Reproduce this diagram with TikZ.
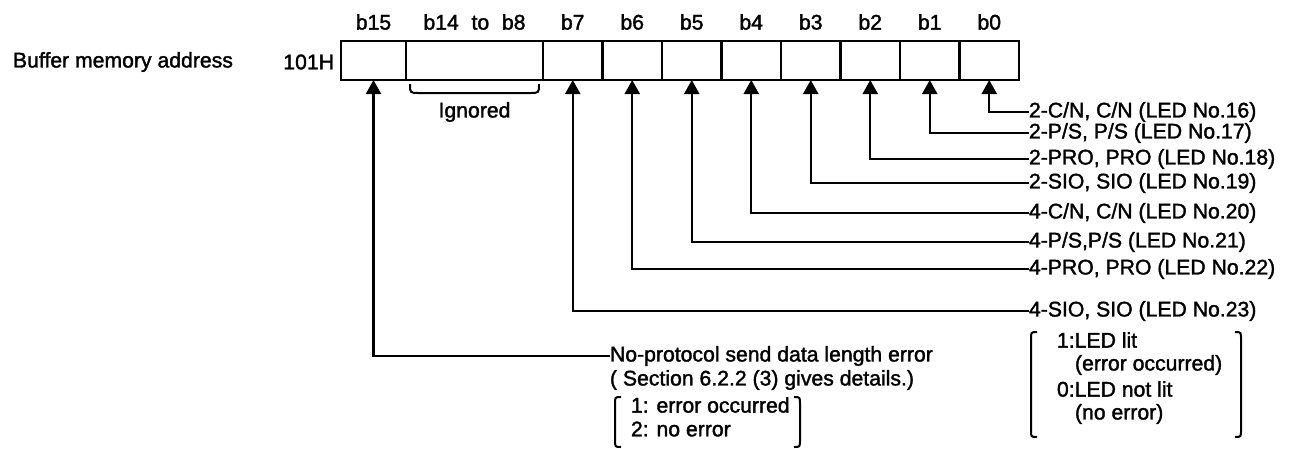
\documentclass[tikz,border=0pt]{standalone}
\usepackage{fontspec}
\setmainfont{Liberation Sans}[FakeBold=1.6]
\usetikzlibrary{arrows.meta}
\begin{document}
\begin{tikzpicture}[x=1pt,y=-1pt,
  every node/.style={font=\fontsize{21.2}{25}\selectfont, inner sep=0pt, outer sep=0pt},
  cell/.style={draw, line width=2.2pt, minimum height=39pt},
  lbl/.style={anchor=west},
  conn/.style={line width=2.2pt, -{Triangle[width=15pt,length=14pt]}},
  brk/.style={line width=2pt}]
\path[use as bounding box] (0,0) rectangle (1294,448);

% register cells
\node[cell, minimum width=65pt]  (c15) at (373.5,60.5) {};
\node[cell, minimum width=137pt] (c14) at (474.5,60.5) {};
\foreach \i/\x in {7/572.75,6/632.25,5/691.75,4/751.25,3/810.75,2/870.25,1/929.75,0/989.25}
  \node[cell, minimum width=59.5pt] (c\i) at (\x,60.5) {};

% bit headings
\node at (c15.center |- 0,22) {b15};
\node at (c14.center |- 0,22) {b14\hspace{0.6em}to\hspace{0.6em}b8};
\foreach \i in {7,6,5,4,3,2,1,0}
  \node at (c\i.center |- 0,22) {b\i};

\node[anchor=west] (bma) at (13,62) {Buffer memory address};
\node[anchor=east] (addr) at (334,62) {101H};

% ignored bits
\draw[brk] (410,84) .. controls (410,93) .. (419,93) -- (530,93) .. controls (539,93) .. (539,84);
\node (ign) at (474.5,112) {Ignored};

% bit descriptions
\node[lbl] (t0) at (1029,112) {2-C/N, C/N (LED No.16)};
\node[lbl] (t1) at (1029,133) {2-P/S, P/S (LED No.17)};
\node[lbl] (t2) at (1029,159) {2-PRO, PRO (LED No.18)};
\node[lbl] (t3) at (1029,183) {2-SIO, SIO (LED No.19)};
\node[lbl] (t4) at (1029,213) {4-C/N, C/N (LED No.20)};
\node[lbl] (t5) at (1029,242) {4-P/S,P/S (LED No.21)};
\node[lbl] (t6) at (1029,269) {4-PRO, PRO (LED No.22)};
\node[lbl] (t7) at (1029,311) {4-SIO, SIO (LED No.23)};
\node[lbl] (t15) at (610,356) {No-protocol send data length error};

\foreach \i in {0,1,2,3,4,5,6,7,15}
  \draw[conn] (t\i.west) -| (c\i.south);

% LED meaning
\node[lbl] (l1) at (1057,340) {1:LED lit};
\node[lbl] (l2) at (1075,365) {(error occurred)};
\node[lbl] (l3) at (1057,389) {0:LED not lit};
\node[lbl] (l4) at (1075,414) {(no error)};
\draw[brk] (1037,332) .. controls (1031,332) .. (1031,339) -- (1031,430) .. controls (1031,437) .. (1037,437);
\draw[brk] (1235,332) .. controls (1241,332) .. (1241,339) -- (1241,430) .. controls (1241,437) .. (1235,437);

% error detail
\node[lbl] (sec) at (610,380) {( Section 6.2.2 (3) gives details.)};
\node[lbl] (e1) at (631,405) {1: error occurred};
\node[lbl] (e2) at (631,429) {2: no error};
\draw[brk] (621,397) .. controls (615,397) .. (615,404) -- (615,440) .. controls (615,447) .. (621,447);
\draw[brk] (794,397) .. controls (800,397) .. (800,404) -- (800,440) .. controls (800,447) .. (794,447);
\end{tikzpicture}
\end{document}
